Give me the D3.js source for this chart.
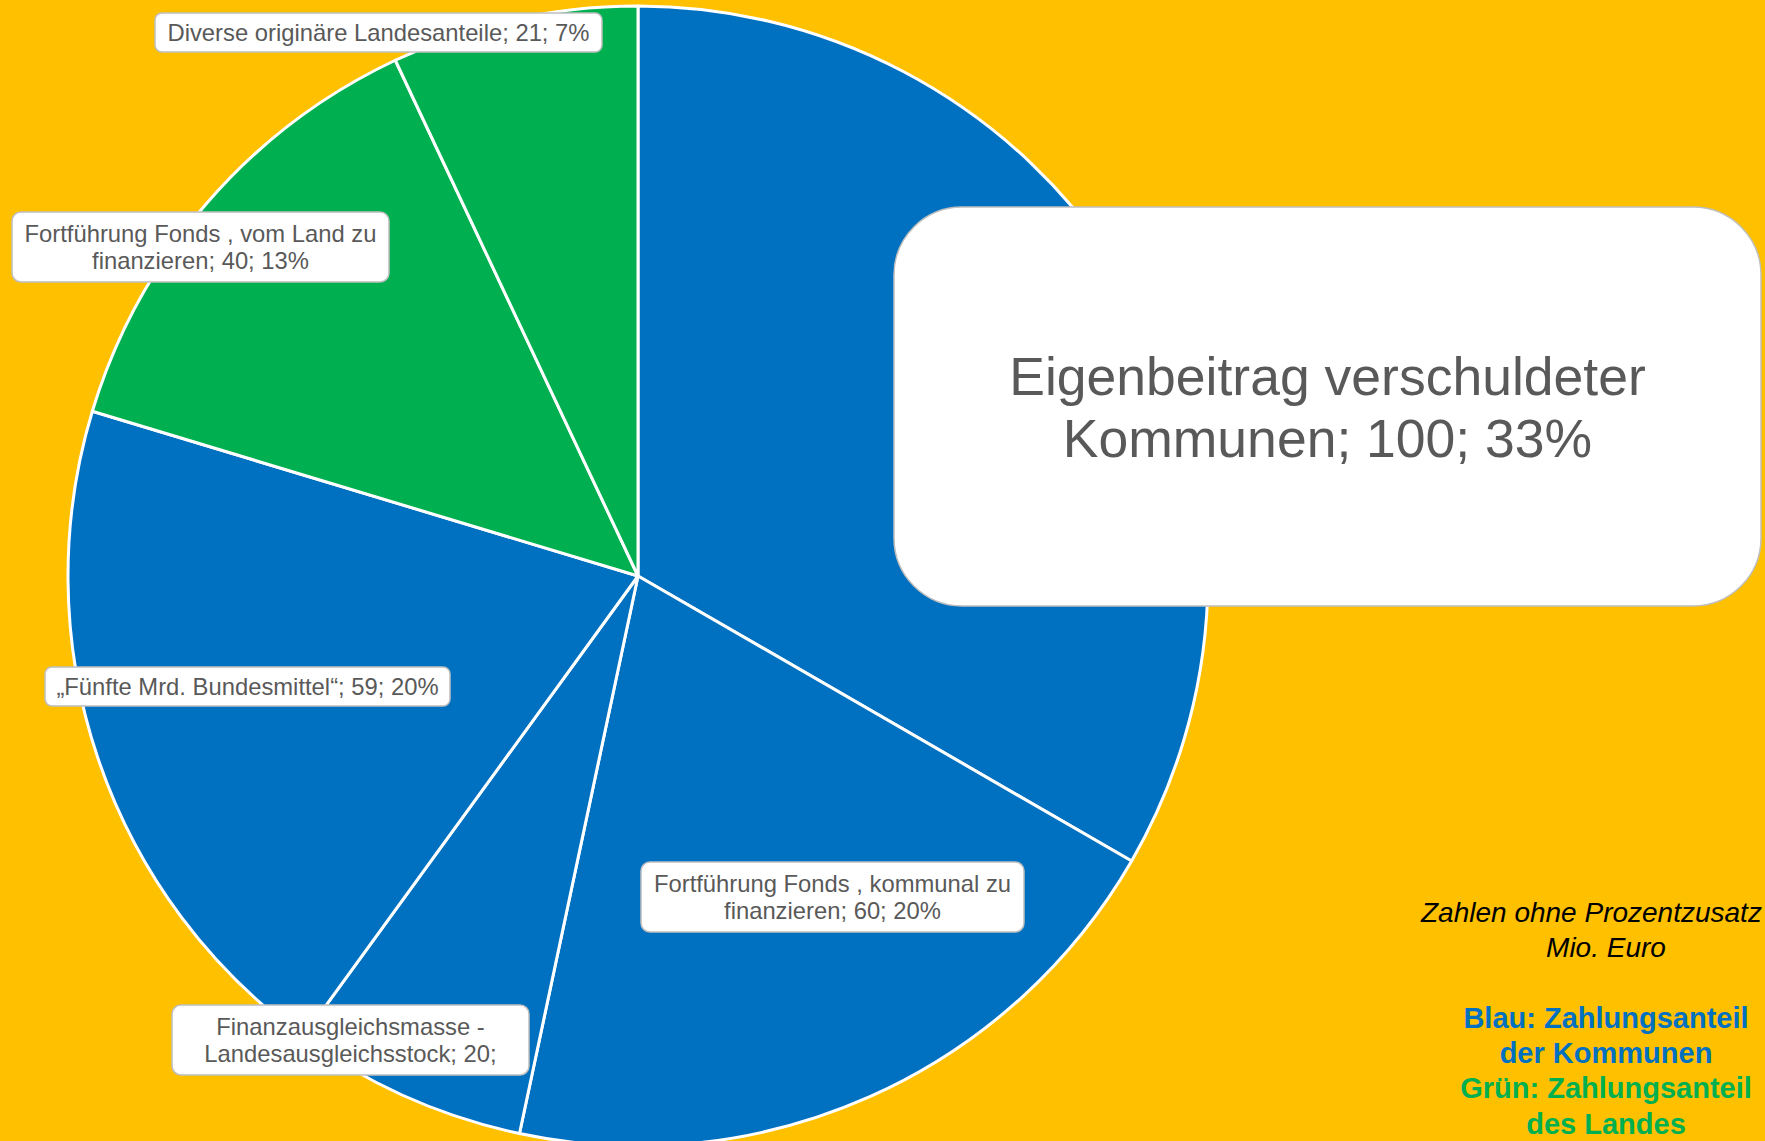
<!DOCTYPE html>
<html>
<head>
<meta charset="utf-8">
<script src="https://cdn.jsdelivr.net/npm/d3@7"></script>
<style>
    body { margin: 0; background: #FFC000; overflow: hidden; }
    svg { display: block; }
</style>
</head>
<body>
<div id="chart-area"></div>
<script>
// data
var categories = [
    "Eigenbeitrag verschuldeter Kommunen",
    "Fortführung Fonds , kommunal zu finanzieren",
    "Finanzausgleichsmasse - Landesausgleichsstock",
    "„Fünfte Mrd. Bundesmittel“",
    "Fortführung Fonds , vom Land zu finanzieren",
    "Diverse originäre Landesanteile"
]
var values = [100, 60, 20, 59, 40, 21]
var payer = ["Kommunen", "Kommunen", "Kommunen", "Kommunen", "Land", "Land"]

var noteLines = ["Zahlen ohne Prozentzusatz", "Mio. Euro"]
var keyLines = [
    ["Blau: Zahlungsanteil", "Kommunen"],
    ["der Kommunen", "Kommunen"],
    ["Grün: Zahlungsanteil", "Land"],
    ["des Landes", "Land"]
]

// label boxes as placed on the slide: x, y, w, h, corner, font size, wrap width, max lines
var labelBoxes = [
    [894, 207, 867, 399, 68, 53.5, 720, 2],
    [641, 862, 383, 70, 9, 23.8, 361, 2],
    [172, 1005, 357, 70, 9, 23.8, 320, 2],
    [45, 667, 405, 39, 7, 23.8, 600, 1],
    [12, 212, 377, 70, 9, 23.8, 358, 2],
    [155, 13, 447, 39, 7, 23.8, 600, 1]
]

var width = 1765, height = 1141
var cx = 638, cy = 576, radius = 570

var color = d3.scaleOrdinal()
    .domain(["Kommunen", "Land"])
    .range(["#0070C0", "#00B050"])

var total = d3.sum(values)
var pct = d3.format(".0%")

var rows = categories.map((c, i) => {
    return {cat: c, value: values[i], payer: payer[i],
            text: c + "; " + values[i] + "; " + pct(values[i] / total)}
})

var svg = d3.select("#chart-area").append("svg")
    .attr("width", width)
    .attr("height", height)

svg.append("rect")
    .attr("width", width)
    .attr("height", height)
    .attr("fill", "#FFC000")

var pie = d3.pie()
    .sort(null)
    .value(d => d.value)

var arc = d3.arc()
    .innerRadius(0)
    .outerRadius(radius)

var pieGroup = svg.append("g")
    .attr("transform", `translate(${cx},${cy})`)

pieGroup.selectAll("path")
    .data(pie(rows))
    .enter().append("path")
    .attr("d", arc)
    .attr("fill", d => color(d.data.payer))
    .attr("stroke", "#ffffff")
    .attr("stroke-width", 3)
    .attr("stroke-linejoin", "round")

// measure helper for word wrapping
var measure = svg.append("text")
    .attr("font-family", "'Liberation Sans', Arial, sans-serif")
    .attr("visibility", "hidden")

function wrap(text, size, maxWidth) {
    measure.attr("font-size", size)
    var words = text.split(" ")
    var lines = []
    var line = ""
    words.forEach(w => {
        var test = line ? line + " " + w : w
        measure.text(test)
        if (line && measure.node().getComputedTextLength() > maxWidth) {
            lines.push(line)
            line = w
        } else {
            line = test
        }
    })
    if (line) lines.push(line)
    return lines
}

var labels = svg.append("g").attr("class", "labels")

rows.forEach((d, i) => {
    var b = labelBoxes[i]
    var g = labels.append("g")
    g.append("rect")
        .attr("x", b[0])
        .attr("y", b[1])
        .attr("width", b[2])
        .attr("height", b[3])
        .attr("rx", b[4])
        .attr("fill", "#ffffff")
        .attr("stroke", "#BFBFBF")
        .attr("stroke-width", 1.5)

    var size = b[5]
    var lh = size * 1.15
    var lines = wrap(d.text, size, b[6]).slice(0, b[7])
    var midY = b[1] + b[3] / 2
    var firstY = midY - (lines.length - 1) * lh / 2 + size * 0.36

    g.append("text")
        .attr("font-family", "'Liberation Sans', Arial, sans-serif")
        .attr("font-size", size)
        .attr("fill", "#595959")
        .attr("text-anchor", "middle")
        .selectAll("tspan")
        .data(lines)
        .enter().append("tspan")
        .attr("x", b[0] + b[2] / 2)
        .attr("y", (l, j) => firstY + j * lh)
        .text(l => l)
})

// note in the lower right corner
var noteX = 1606
svg.append("g")
    .selectAll("text")
    .data(noteLines)
    .enter().append("text")
    .attr("x", (d, i) => i == 0 ? 1421 : noteX)
    .attr("y", (d, i) => 922 + i * 35.2)
    .attr("text-anchor", (d, i) => i == 0 ? "start" : "middle")
    .attr("font-family", "'Liberation Sans', Arial, sans-serif")
    .attr("font-style", "italic")
    .attr("font-size", 28)
    .attr("fill", "#000000")
    .text(d => d)

svg.append("g")
    .selectAll("text")
    .data(keyLines)
    .enter().append("text")
    .attr("x", noteX)
    .attr("y", (d, i) => 1028 + i * 35.2)
    .attr("text-anchor", "middle")
    .attr("font-family", "'Liberation Sans', Arial, sans-serif")
    .attr("font-weight", "bold")
    .attr("font-size", 29)
    .attr("fill", d => color(d[1]))
    .text(d => d[0])
</script>
</body>
</html>
